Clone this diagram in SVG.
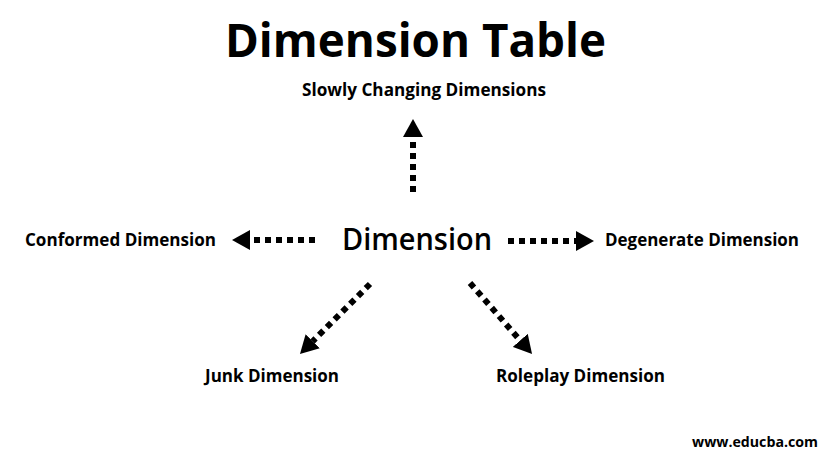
<svg xmlns="http://www.w3.org/2000/svg" width="822" height="462" viewBox="0 0 822 462">
  <defs>
    <marker id="head" markerUnits="userSpaceOnUse" markerWidth="19" markerHeight="20" refX="0" refY="10" orient="auto">
      <path d="M0,0 L18,10 L0,20 z" fill="#000"/>
    </marker>
    <style>
      text { font-family: "Open Sans", "Noto Sans", "Liberation Sans", sans-serif; fill: #000; }
      .title { font-size: 47px; font-weight: bold; }
      .lbl { font-size: 17px; font-weight: bold; }
      .center { font-size: 31px; font-weight: 600; }
      .conn line { stroke: #000; stroke-width: 6; stroke-dasharray: 6 5; fill: none; marker-end: url(#head); }
      .web { font-size: 14px; font-weight: bold; }
    </style>
  </defs>
  <rect width="822" height="462" fill="#fff"/>

  <g id="title"><text class="title" x="225" y="57" textLength="381" lengthAdjust="spacingAndGlyphs">Dimension Table</text></g>

  <g id="slowly"><text class="lbl" x="302" y="96" textLength="244" lengthAdjust="spacingAndGlyphs">Slowly Changing Dimensions</text></g>

  <g id="dimension">
    <text class="center" x="342" y="250" textLength="150" lengthAdjust="spacingAndGlyphs">Dimension</text>
  </g>

  <g id="conformed"><text class="lbl" x="25" y="246" textLength="191" lengthAdjust="spacingAndGlyphs">Conformed Dimension</text></g>

  <g id="degenerate"><text class="lbl" x="605" y="246" textLength="194" lengthAdjust="spacingAndGlyphs">Degenerate Dimension</text></g>

  <g id="junk"><text class="lbl" x="205" y="382" textLength="134" lengthAdjust="spacingAndGlyphs">Junk Dimension</text></g>

  <g id="roleplay"><text class="lbl" x="496" y="382" textLength="169" lengthAdjust="spacingAndGlyphs">Roleplay Dimension</text></g>

  <g class="conn" id="connectors">
    <line x1="413" y1="192" x2="413" y2="137"/>
    <line x1="315" y1="240" x2="250" y2="240"/>
    <line x1="508" y1="241" x2="576" y2="241"/>
    <line x1="370" y1="284" x2="312.7" y2="341.3"/>
    <line x1="470" y1="283" x2="520.2" y2="340.4"/>
  </g>

  <g id="watermark"><text class="web" x="692" y="447" textLength="126" lengthAdjust="spacingAndGlyphs">www.educba.com</text></g>
</svg>
